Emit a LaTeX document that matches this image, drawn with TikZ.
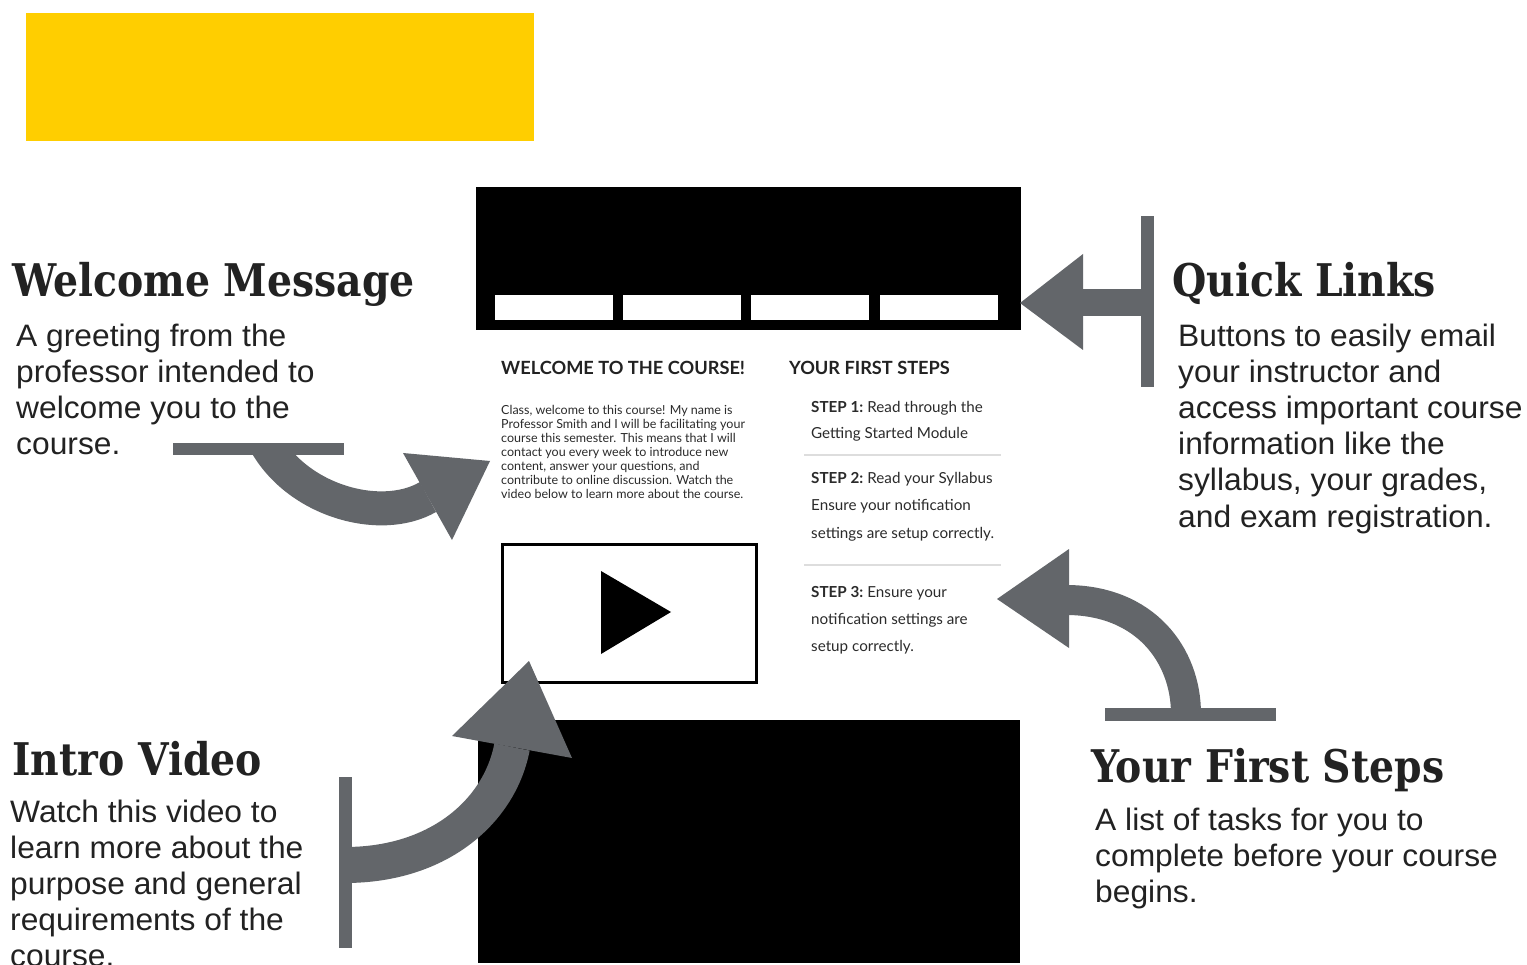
\documentclass[tikz,border=0pt]{standalone}
\usepackage{fontspec}
\setmainfont[FakeStretch=1.025]{Liberation Sans}
\newfontfamily\headfont[FakeStretch=0.875]{DejaVu Serif}
\newfontfamily\latofont{Lato}
\definecolor{gold}{HTML}{FFCE00}
\definecolor{agray}{HTML}{63666A}
\definecolor{txt}{HTML}{222222}
\definecolor{itxt}{HTML}{2B2B2B}
\definecolor{sep}{HTML}{DDDDDD}
\begin{document}
\begin{tikzpicture}[x=1pt,y=-1pt,
  head/.style={anchor=base west,inner sep=0pt,text=txt,font=\headfont\bfseries\fontsize{45}{50}\selectfont},
  body/.style={anchor=base west,inner sep=0pt,text=txt,font=\fontsize{31}{36}\selectfont},
  ihead/.style={anchor=base west,inner sep=0pt,text=txt,font=\latofont\bfseries\fontsize{18.2}{20}\selectfont},
  ipara/.style={anchor=base west,inner sep=0pt,text=itxt,font=\latofont\fontsize{12.5}{14}\selectfont},
  istep/.style={anchor=base west,inner sep=0pt,text=itxt,font=\latofont\fontsize{15.2}{18}\selectfont},
  shaft/.style={draw=agray,line cap=butt},
  arrfill/.style={fill=agray,draw=none}]
\useasboundingbox (0,0) rectangle (1527,965);
\fill[white] (0,0) rectangle (1527,965);

% yellow banner
\fill[gold] (26,13) rectangle (534,141);

% top black banner with buttons
\fill[black] (476,187) rectangle (1021,330);
\foreach \xa/\xb in {495/613,623/741,751/869,880/998}
  \fill[white] (\xa,295) rectangle (\xb,320);

% bottom black block
\fill[black] (478,720) rectangle (1020,963);

% inner headings
\node[ihead] (iwel) at (501,375) {WELCOME TO THE COURSE!};
\node[ihead] (ifs) at (789,375) {YOUR FIRST STEPS};

% paragraph
\foreach \t [count=\i] in {{Class, welcome to this course! My name is},
  Professor Smith and I will be facilitating your,
  course this semester. This means that I will,
  contact you every week to introduce new,
  {content, answer your questions, and},
  contribute to online discussion. Watch the,
  video below to learn more about the course.}
  \node[ipara] (ip-\i) at (501,{401+14*\i}) {\t};

% steps
\node[istep] (s1a) at (811,413) {\textbf{STEP 1:}\hspace{-1pt} Read through the};
\node[istep] (s1b) at (811,439) {Getting Started Module};
\draw[sep,line width=2pt] (804,455) -- (1001,455);
\node[istep] (s2a) at (811,484) {\textbf{STEP 2:}\hspace{-1pt} Read your Syllabus};
\node[istep] (s2b) at (811,511) {Ensure your notification};
\node[istep] (s2c) at (811,538) {settings are setup correctly.};
\draw[sep,line width=2pt] (804,565) -- (1001,565);
\node[istep] (s3a) at (811,597) {\textbf{STEP 3:}\hspace{-1pt} Ensure your};
\node[istep] (s3b) at (811,624) {notification settings are};
\node[istep] (s3c) at (811,651) {setup correctly.};

% video box
\draw[black,line width=3pt] (502.5,544.5) rectangle (756.5,682.5);
\fill[black] (601,571) -- (601,654) -- (671,612) -- cycle;

% ---- arrows ----
% welcome arrow
\begin{scope}
  \clip (0,449) rectangle (700,700);
  \draw[shaft,line width=34pt] (262,436) .. controls (292,500) and (380,525) .. (428,497);
\end{scope}
\fill[agray] (173,443) rectangle (344,455);
\fill[arrfill] (403,453) -- (490,461) -- (452,540) -- cycle;

% quick links arrow
\fill[agray] (1141,216) rectangle (1154,387);
\fill[agray] (1080,289.5) rectangle (1142,316.5);
\fill[arrfill] (1020,303) -- (1083,254) -- (1083,350) -- cycle;

% first steps arrow
\draw[shaft,line width=30pt] (1186,714) .. controls (1186,655) and (1145,600) .. (1066,600);
\fill[agray] (1105,708) rectangle (1276,721);
\fill[arrfill] (997,599) -- (1069,549) -- (1069,648) -- cycle;

% intro video arrow
\draw[shaft,line width=36pt] (345,865) .. controls (440,865) and (500,810) .. (512,747);
\fill[agray] (339,777) rectangle (352,948);
\fill[arrfill] (529,661) -- (452,736) -- (572,758) -- cycle;

% ---- outer texts ----
\node[head] (wmh) at (12,297) {Welcome Message};
\foreach \t [count=\i] in {A greeting from the, professor intended to, welcome you to the, course.}
  \node[body] (wm-\i) at (16,{311+36*\i}) {\t};

\node[head] (qlh) at (1172,297) {Quick Links};
\foreach \t [count=\i] in {Buttons to easily email, your instructor and, access important course, information like the, {syllabus, your grades,}, and exam registration.}
  \node[body] (ql-\i) at (1178,{311+36*\i}) {\t};

\node[head] (ivh) at (12,775) {Intro Video};
\foreach \t [count=\i] in {Watch this video to, learn more about the, purpose and general, requirements of the, course.}
  \node[body] (iv-\i) at (10,{786+36*\i}) {\t};

\node[head] (fsh) at (1091,782) {Your First Steps};
\foreach \t [count=\i] in {A list of tasks for you to, complete before your course, begins.}
  \node[body] (fs-\i) at (1095,{794+36*\i}) {\t};
\end{tikzpicture}
\end{document}
